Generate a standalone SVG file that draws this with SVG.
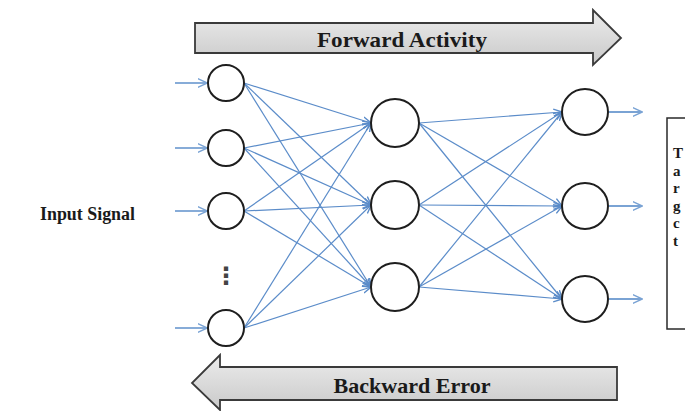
<svg xmlns="http://www.w3.org/2000/svg" width="685" height="411" viewBox="0 0 685 411">
<defs>
<linearGradient id="g1" x1="0" y1="0" x2="0" y2="1">
<stop offset="0" stop-color="#ececec"/>
<stop offset="1" stop-color="#c9c9c9"/>
</linearGradient>
<marker id="ah" viewBox="0 0 10 10" refX="9.5" refY="5" markerWidth="9" markerHeight="9" orient="auto" markerUnits="userSpaceOnUse">
<path d="M0,1 L10,5 L0,9" fill="none" stroke="#5b8cc9" stroke-width="1.6"/>
</marker>
<marker id="ao" viewBox="0 0 10 10" refX="9.5" refY="5" markerWidth="10" markerHeight="10" orient="auto" markerUnits="userSpaceOnUse">
<path d="M0,0.5 L10,5 L0,9.5" fill="none" stroke="#7aa3d4" stroke-width="1.4"/>
</marker>
</defs>
<style>
.n{fill:#fff;stroke:#1e1e1e;stroke-width:2}
.c{stroke:#5b8cc9;stroke-width:1.2;fill:none;marker-end:url(#ah)}
.io{stroke:#7aa3d4;stroke-width:1.8;fill:none;marker-end:url(#ao)}
.big{fill:url(#g1);stroke:#3a3a3a;stroke-width:1.8}
.t{font-family:"Liberation Serif","Times New Roman",serif;font-weight:bold;fill:#1a1a1a}
.b{font-size:15px}
</style>
<rect width="685" height="411" fill="#fff"/>

<g id="forward">
<path class="big" d="M195,23 H593 V10 L621,38 L593,65 V53 H195 Z"/>
<text class="t" x="402" y="47" font-size="21" text-anchor="middle" textLength="170" lengthAdjust="spacingAndGlyphs">Forward Activity</text>
</g>
<g id="backward">
<path class="big" d="M617,367 H220 V355 L192,383 L220,410 V400 H617 Z"/>
<text class="t" x="412" y="393" font-size="21" text-anchor="middle" textLength="157" lengthAdjust="spacingAndGlyphs">Backward Error</text>
</g>

<g id="input-label">
<text class="t" x="40" y="220" font-size="18" textLength="95" lengthAdjust="spacingAndGlyphs">Input Signal</text>
</g>

<g id="note">
<rect x="667" y="118" width="30" height="211" fill="#fff" stroke="#2a2a2a" stroke-width="1.5"/>
<text class="t b" x="673" y="158">T</text>
<text class="t b" x="673" y="175.5">a</text>
<text class="t b" x="673" y="193">r</text>
<text class="t b" x="673" y="210.5">g</text>
<text class="t b" x="673" y="228">c</text>
<text class="t b" x="673" y="245.5">t</text>
</g>

<g id="connectors">
<line class="io" x1="175" y1="83" x2="207" y2="83"/>
<line class="io" x1="175" y1="148" x2="207" y2="148"/>
<line class="io" x1="175" y1="211" x2="207" y2="211"/>
<line class="io" x1="175" y1="328" x2="207" y2="328"/>

<line class="c" x1="244" y1="83" x2="371" y2="123"/>
<line class="c" x1="244" y1="83" x2="371" y2="205"/>
<line class="c" x1="244" y1="83" x2="371" y2="287"/>
<line class="c" x1="244" y1="148" x2="371" y2="123"/>
<line class="c" x1="244" y1="148" x2="371" y2="205"/>
<line class="c" x1="244" y1="148" x2="371" y2="287"/>
<line class="c" x1="244" y1="211" x2="371" y2="123"/>
<line class="c" x1="244" y1="211" x2="371" y2="205"/>
<line class="c" x1="244" y1="211" x2="371" y2="287"/>
<line class="c" x1="244" y1="328" x2="371" y2="123"/>
<line class="c" x1="244" y1="328" x2="371" y2="205"/>
<line class="c" x1="244" y1="328" x2="371" y2="287"/>

<line class="c" x1="419" y1="123" x2="562" y2="112"/>
<line class="c" x1="419" y1="123" x2="562" y2="206"/>
<line class="c" x1="419" y1="123" x2="562" y2="299"/>
<line class="c" x1="419" y1="205" x2="562" y2="112"/>
<line class="c" x1="419" y1="205" x2="562" y2="206"/>
<line class="c" x1="419" y1="205" x2="562" y2="299"/>
<line class="c" x1="419" y1="287" x2="562" y2="112"/>
<line class="c" x1="419" y1="287" x2="562" y2="206"/>
<line class="c" x1="419" y1="287" x2="562" y2="299"/>

<line class="io" x1="609" y1="112" x2="642" y2="112"/>
<line class="io" x1="609" y1="206" x2="642" y2="206"/>
<line class="io" x1="609" y1="299" x2="642" y2="299"/>
</g>

<g id="in1"><circle class="n" cx="226" cy="83" r="18"/></g>
<g id="in2"><circle class="n" cx="226" cy="148" r="18"/></g>
<g id="in3"><circle class="n" cx="226" cy="211" r="18"/></g>
<g id="in-dots"><text x="226" y="284" font-family="DejaVu Sans, sans-serif" font-weight="bold" font-size="24" text-anchor="middle" fill="#444">⋮</text></g>
<g id="in4"><circle class="n" cx="226" cy="328" r="18"/></g>

<g id="h1"><circle class="n" cx="395" cy="123" r="24"/></g>
<g id="h2"><circle class="n" cx="395" cy="205" r="24"/></g>
<g id="h3"><circle class="n" cx="395" cy="287" r="24"/></g>

<g id="o1"><circle class="n" cx="585" cy="112" r="23"/></g>
<g id="o2"><circle class="n" cx="585" cy="206" r="23"/></g>
<g id="o3"><circle class="n" cx="585" cy="299" r="23"/></g>
</svg>
